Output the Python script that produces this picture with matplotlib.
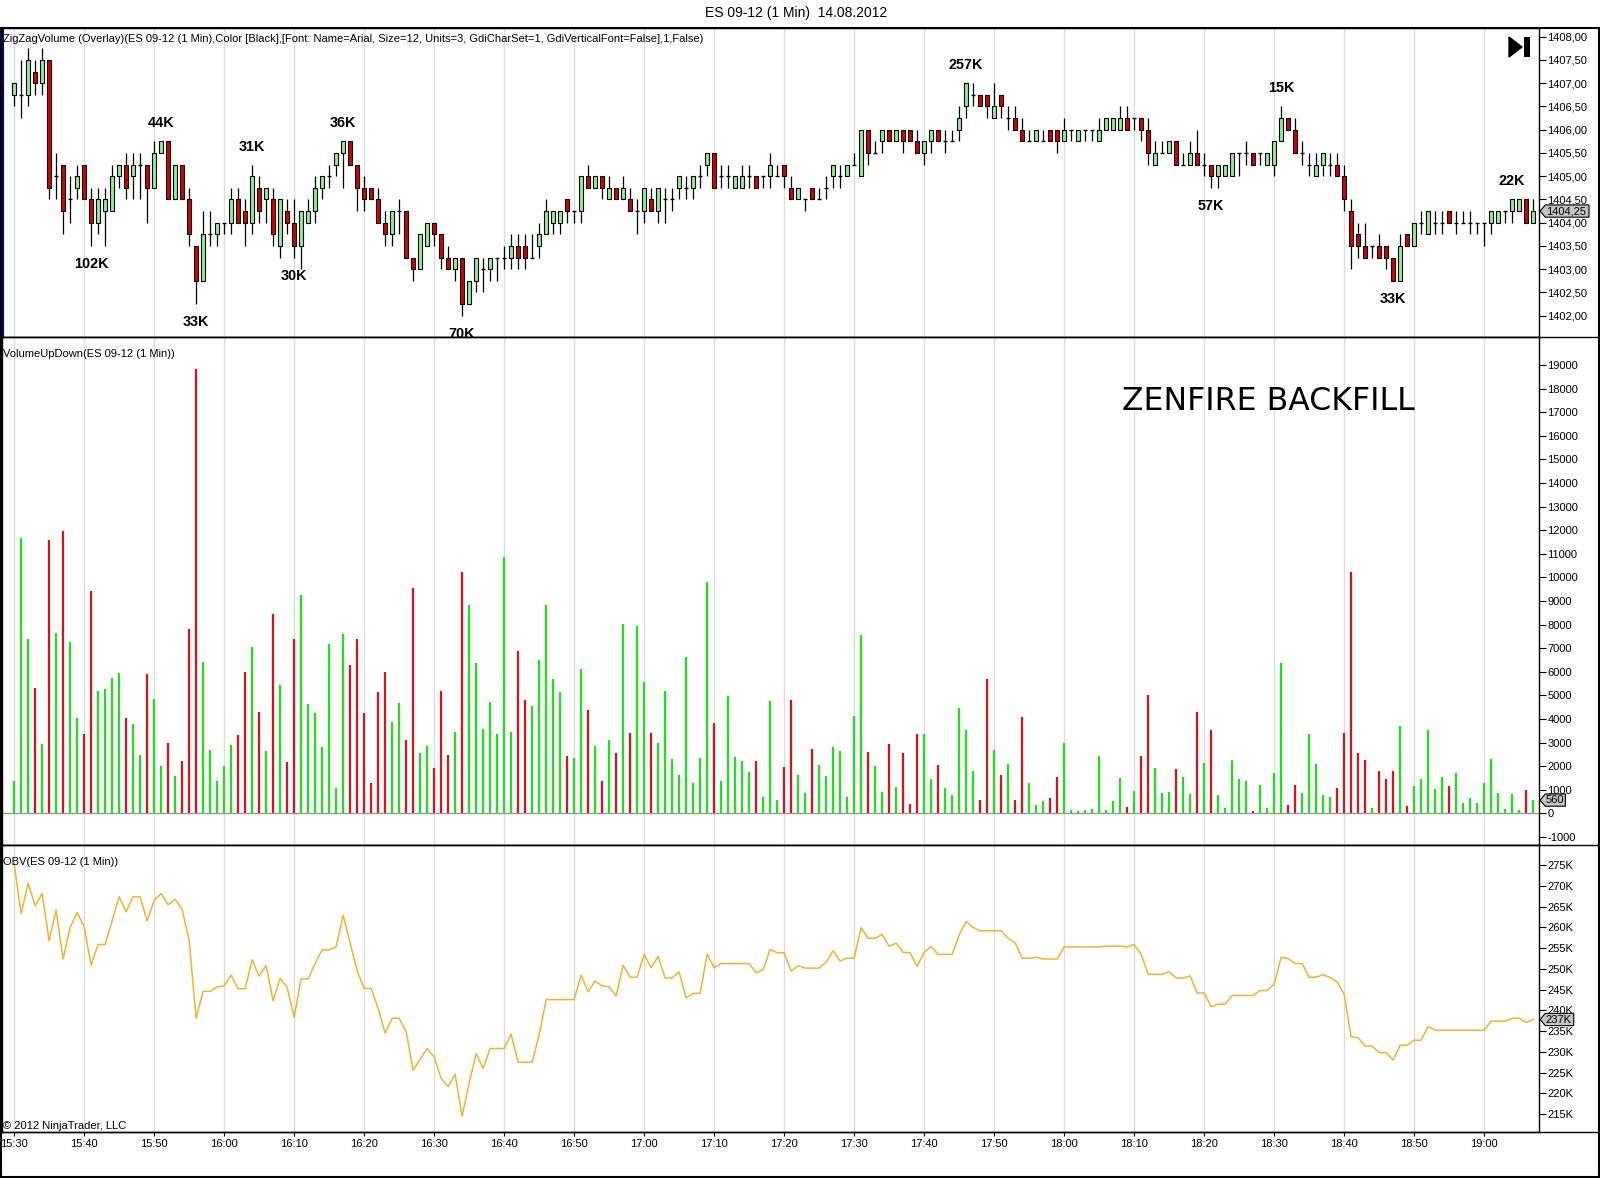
import numpy as np
import matplotlib.pyplot as plt
from matplotlib.ticker import FixedLocator
from matplotlib.patches import Polygon, Rectangle
from matplotlib.lines import Line2D
from matplotlib.transforms import Affine2D, ScaledTranslation

plt.rcParams['font.family'] = ['Liberation Sans', 'DejaVu Sans']

# ES 09-12, 1 minute bars from 15:30 to 19:07
opens = [
    1406.75, 1406.75, 1406.75, 1407.25, 1407.0, 1407.5, 1405.0, 1405.25, 1404.5, 1404.75,
    1405.25, 1404.5, 1404.0, 1404.25, 1404.25, 1405.0, 1405.25, 1405.0, 1405.25, 1405.25,
    1404.75, 1405.5, 1405.75, 1404.5, 1405.25, 1404.5, 1403.5, 1402.75, 1403.75, 1403.75,
    1404.0, 1404.0, 1404.5, 1404.25, 1404.0, 1404.75, 1404.5, 1404.5, 1403.5, 1404.25,
    1404.0, 1403.5, 1404.0, 1404.25, 1404.75, 1405.0, 1405.25, 1405.5, 1405.75, 1405.25,
    1404.75, 1404.75, 1404.5, 1404.0, 1403.75, 1404.25, 1404.25, 1403.25, 1403.0, 1403.5,
    1404.0, 1403.75, 1403.25, 1403.0, 1403.25, 1402.25, 1402.75, 1403.0, 1403.0, 1403.25,
    1403.25, 1403.25, 1403.5, 1403.5, 1403.25, 1403.5, 1403.75, 1404.0, 1404.0, 1404.5,
    1404.25, 1404.25, 1405.0, 1404.75, 1405.0, 1404.5, 1404.75, 1404.5, 1404.5, 1404.25,
    1404.25, 1404.5, 1404.25, 1404.5, 1404.5, 1404.75, 1404.75, 1404.75, 1405.0, 1405.25,
    1405.5, 1405.0, 1405.0, 1404.75, 1404.75, 1405.0, 1405.0, 1405.0, 1405.0, 1405.0,
    1405.25, 1404.75, 1404.5, 1404.5, 1404.75, 1404.5, 1404.75, 1405.0, 1405.0, 1405.0,
    1405.25, 1405.0, 1406.0, 1405.5, 1405.75, 1406.0, 1405.75, 1406.0, 1406.0, 1405.75,
    1405.5, 1405.75, 1406.0, 1405.75, 1405.75, 1406.0, 1406.5, 1406.75, 1406.75, 1406.75,
    1406.25, 1406.75, 1406.25, 1406.25, 1406.0, 1405.75, 1405.75, 1405.75, 1406.0, 1406.0,
    1405.75, 1406.0, 1405.75, 1406.0, 1406.0, 1405.75, 1406.0, 1406.0, 1406.0, 1406.25,
    1406.25, 1406.25, 1406.0, 1405.25, 1405.5, 1405.5, 1405.75, 1405.25, 1405.25, 1405.5,
    1405.25, 1405.25, 1405.0, 1405.0, 1405.0, 1405.5, 1405.5, 1405.5, 1405.5, 1405.25,
    1405.25, 1405.75, 1406.25, 1406.0, 1405.5, 1405.25, 1405.0, 1405.25, 1405.25, 1405.25,
    1405.0, 1404.25, 1403.75, 1403.5, 1403.5, 1403.5, 1403.5, 1403.25, 1402.75, 1403.75,
    1403.5, 1404.0, 1403.75, 1404.0, 1404.0, 1404.25, 1404.0, 1404.0, 1404.0, 1404.0,
    1404.0, 1404.0, 1404.0, 1404.25, 1404.25, 1404.25, 1404.5, 1404.0,
]
highs = [
    1407.0, 1407.5, 1407.75, 1407.5, 1407.75, 1407.5, 1405.5, 1405.25, 1405.0, 1405.25,
    1405.25, 1404.75, 1404.75, 1404.75, 1405.25, 1405.25, 1405.5, 1405.5, 1405.5, 1405.25,
    1405.75, 1405.75, 1405.75, 1405.25, 1405.25, 1404.75, 1403.5, 1404.25, 1404.25, 1404.0,
    1404.0, 1404.75, 1404.75, 1404.5, 1405.25, 1405.0, 1404.75, 1404.75, 1404.5, 1404.5,
    1404.5, 1404.25, 1404.5, 1405.0, 1405.0, 1405.25, 1405.5, 1405.75, 1405.75, 1405.25,
    1405.0, 1404.75, 1404.75, 1404.25, 1404.25, 1404.5, 1404.25, 1403.25, 1403.75, 1404.0,
    1404.0, 1403.75, 1403.5, 1403.25, 1403.25, 1402.75, 1403.25, 1403.25, 1403.25, 1403.25,
    1403.5, 1403.75, 1403.75, 1403.75, 1403.75, 1404.0, 1404.5, 1404.25, 1404.25, 1404.5,
    1404.25, 1405.0, 1405.25, 1405.0, 1405.0, 1405.0, 1404.75, 1405.0, 1404.75, 1404.5,
    1404.75, 1404.75, 1404.75, 1404.75, 1404.75, 1405.0, 1405.0, 1405.0, 1405.25, 1405.5,
    1405.5, 1405.25, 1405.25, 1405.0, 1405.25, 1405.25, 1405.0, 1405.0, 1405.5, 1405.25,
    1405.25, 1405.0, 1404.75, 1404.5, 1404.75, 1404.75, 1405.0, 1405.25, 1405.25, 1405.25,
    1405.5, 1406.0, 1406.0, 1405.75, 1406.0, 1406.0, 1406.0, 1406.0, 1406.0, 1406.0,
    1405.75, 1406.0, 1406.0, 1406.0, 1406.0, 1406.5, 1407.0, 1407.0, 1406.75, 1406.75,
    1407.0, 1406.75, 1406.5, 1406.5, 1406.25, 1406.0, 1406.0, 1406.0, 1406.0, 1406.0,
    1406.25, 1406.0, 1406.0, 1406.0, 1406.0, 1406.25, 1406.25, 1406.25, 1406.5, 1406.5,
    1406.25, 1406.25, 1406.25, 1405.75, 1405.75, 1405.75, 1405.75, 1405.5, 1405.75, 1406.0,
    1405.5, 1405.25, 1405.25, 1405.25, 1405.5, 1405.5, 1405.75, 1405.5, 1405.5, 1405.5,
    1405.75, 1406.5, 1406.25, 1406.25, 1405.75, 1405.5, 1405.5, 1405.5, 1405.5, 1405.5,
    1405.25, 1404.5, 1404.0, 1404.0, 1403.5, 1403.75, 1403.5, 1403.25, 1403.75, 1403.75,
    1404.0, 1404.25, 1404.25, 1404.25, 1404.25, 1404.25, 1404.25, 1404.25, 1404.25, 1404.0,
    1404.0, 1404.25, 1404.25, 1404.25, 1404.5, 1404.5, 1404.5, 1404.5,
]
lows = [
    1406.5, 1406.25, 1406.5, 1406.75, 1406.75, 1404.5, 1404.5, 1403.75, 1404.0, 1404.5,
    1404.5, 1403.5, 1403.75, 1403.5, 1404.25, 1404.75, 1404.5, 1404.5, 1404.5, 1404.0,
    1404.75, 1405.5, 1404.5, 1404.5, 1404.5, 1403.5, 1402.25, 1402.75, 1403.5, 1403.5,
    1403.75, 1403.75, 1404.0, 1403.5, 1403.75, 1404.0, 1404.0, 1403.5, 1403.25, 1403.75,
    1403.25, 1403.0, 1404.0, 1404.0, 1404.5, 1404.75, 1405.0, 1404.75, 1405.25, 1404.25,
    1404.25, 1404.5, 1404.0, 1403.5, 1403.5, 1403.75, 1403.25, 1402.75, 1403.0, 1403.5,
    1403.5, 1403.0, 1403.0, 1402.75, 1402.0, 1402.25, 1402.5, 1402.5, 1402.75, 1402.75,
    1403.0, 1403.0, 1403.0, 1403.0, 1403.25, 1403.25, 1403.75, 1403.75, 1403.75, 1404.0,
    1404.0, 1404.0, 1404.75, 1404.75, 1404.5, 1404.5, 1404.5, 1404.5, 1404.25, 1403.75,
    1404.0, 1404.25, 1404.0, 1404.0, 1404.25, 1404.5, 1404.5, 1404.5, 1404.75, 1405.0,
    1404.75, 1404.75, 1404.75, 1404.75, 1404.75, 1404.75, 1404.75, 1404.75, 1404.75, 1405.0,
    1404.75, 1404.5, 1404.5, 1404.25, 1404.5, 1404.5, 1404.5, 1404.75, 1404.75, 1405.0,
    1405.25, 1405.0, 1405.25, 1405.5, 1405.5, 1405.75, 1405.75, 1405.5, 1405.75, 1405.5,
    1405.25, 1405.5, 1405.75, 1405.5, 1405.75, 1405.75, 1406.25, 1406.5, 1406.5, 1406.25,
    1406.25, 1406.25, 1406.0, 1406.0, 1405.75, 1405.75, 1405.75, 1405.75, 1405.75, 1405.5,
    1405.75, 1405.75, 1405.75, 1405.75, 1405.75, 1405.75, 1406.0, 1406.0, 1406.0, 1406.0,
    1406.0, 1405.75, 1405.25, 1405.25, 1405.5, 1405.5, 1405.25, 1405.25, 1405.25, 1405.25,
    1405.0, 1404.75, 1404.75, 1405.0, 1405.0, 1405.0, 1405.25, 1405.25, 1405.25, 1405.25,
    1405.0, 1405.75, 1406.0, 1405.5, 1405.25, 1405.0, 1405.0, 1405.0, 1405.0, 1405.0,
    1404.25, 1403.0, 1403.25, 1403.25, 1403.25, 1403.25, 1403.0, 1402.75, 1402.75, 1403.5,
    1403.5, 1403.75, 1403.75, 1403.75, 1403.75, 1404.0, 1403.75, 1404.0, 1403.75, 1403.75,
    1403.5, 1403.75, 1404.0, 1404.0, 1404.0, 1404.25, 1404.0, 1404.0,
]
closes = [
    1407.0, 1406.75, 1407.5, 1407.0, 1407.5, 1404.75, 1405.0, 1404.25, 1404.5, 1405.0,
    1404.5, 1404.0, 1404.5, 1404.5, 1405.0, 1405.25, 1404.75, 1405.25, 1405.25, 1404.75,
    1405.5, 1405.75, 1404.5, 1405.25, 1404.5, 1403.75, 1402.75, 1403.75, 1403.75, 1404.0,
    1404.0, 1404.5, 1404.0, 1404.0, 1405.0, 1404.25, 1404.75, 1403.75, 1404.5, 1404.0,
    1403.5, 1404.25, 1404.25, 1404.75, 1405.0, 1405.0, 1405.5, 1405.75, 1405.25, 1404.75,
    1404.5, 1404.5, 1404.0, 1403.75, 1404.25, 1404.25, 1403.25, 1403.0, 1403.75, 1404.0,
    1403.75, 1403.25, 1403.0, 1403.25, 1402.25, 1402.75, 1403.25, 1403.0, 1403.25, 1403.25,
    1403.25, 1403.5, 1403.25, 1403.25, 1403.25, 1403.75, 1404.25, 1404.25, 1404.25, 1404.25,
    1404.25, 1405.0, 1404.75, 1405.0, 1404.75, 1404.75, 1404.5, 1404.75, 1404.25, 1404.25,
    1404.75, 1404.25, 1404.75, 1404.5, 1404.5, 1405.0, 1404.75, 1405.0, 1405.0, 1405.5,
    1404.75, 1405.0, 1405.0, 1405.0, 1405.0, 1405.0, 1404.75, 1405.0, 1405.25, 1405.0,
    1405.0, 1404.5, 1404.75, 1404.5, 1404.5, 1404.5, 1404.75, 1405.25, 1405.0, 1405.25,
    1405.25, 1406.0, 1405.5, 1405.5, 1406.0, 1405.75, 1406.0, 1405.75, 1405.75, 1405.5,
    1405.75, 1406.0, 1405.75, 1405.75, 1405.75, 1406.25, 1407.0, 1406.75, 1406.5, 1406.5,
    1406.5, 1406.5, 1406.25, 1406.0, 1405.75, 1405.75, 1406.0, 1405.75, 1405.75, 1405.75,
    1406.0, 1406.0, 1406.0, 1406.0, 1406.0, 1406.0, 1406.25, 1406.25, 1406.25, 1406.0,
    1406.25, 1406.0, 1405.5, 1405.5, 1405.5, 1405.75, 1405.25, 1405.25, 1405.5, 1405.25,
    1405.25, 1405.0, 1405.25, 1405.25, 1405.5, 1405.5, 1405.5, 1405.25, 1405.5, 1405.5,
    1405.75, 1406.25, 1406.0, 1405.5, 1405.5, 1405.25, 1405.25, 1405.5, 1405.25, 1405.0,
    1404.5, 1403.5, 1403.5, 1403.25, 1403.5, 1403.25, 1403.25, 1402.75, 1403.5, 1403.5,
    1404.0, 1404.0, 1404.25, 1404.0, 1404.0, 1404.0, 1404.0, 1404.0, 1404.0, 1404.0,
    1404.0, 1404.25, 1404.25, 1404.25, 1404.5, 1404.5, 1404.0, 1404.25,
]

# VolumeUpDown: contracts per bar
volume = [
    1370, 11680, 7390, 5310, 2940, 11580, 7640, 11960, 7260, 4040,
    3360, 9420, 5180, 5270, 5730, 5950, 4040, 3790, 2470, 5900,
    4840, 2020, 2980, 1580, 2220, 7810, 18850, 6410, 2680, 1370,
    2020, 2900, 3320, 5990, 7050, 4290, 2640, 8450, 5440, 2180,
    7390, 9250, 4630, 4250, 2810, 7180, 1070, 7600, 6290, 7390,
    4250, 1290, 5140, 5990, 3870, 4680, 3110, 9550, 2560, 2850,
    1920, 5180, 2470, 3450, 10230, 8830, 6370, 3570, 4720, 3360,
    10860, 3450, 6880, 4800, 4550, 6500, 8830, 5690, 5140, 2430,
    2340, 6120, 4380, 2850, 1370, 3110, 2560, 8010, 3400, 7940,
    5560, 3400, 2980, 5180, 2300, 1620, 6620, 1290, 2340, 9800,
    3830, 1370, 4970, 2390, 2220, 1750, 2220, 690, 4760, 560,
    1960, 4800, 1620, 860, 2730, 2050, 1580, 2810, 2640, 690,
    4120, 7560, 2600, 2020, 900, 2940, 1120, 2560, 400, 3360,
    3360, 1450, 2050, 1070, 780, 4460, 3530, 1790, 560, 5690,
    2680, 1620, 2090, 560, 4080, 1290, 350, 520, 650, 1540,
    2980, 140, 100, 140, 180, 2430, 140, 520, 1500, 270,
    950, 2430, 5010, 1920, 860, 900, 1880, 1540, 820, 4290,
    2130, 3530, 780, 230, 2260, 1450, 1370, 100, 1200, 230,
    1710, 6370, 350, 1200, 860, 3360, 2090, 780, 690, 1070,
    3400, 10230, 2560, 2260, 230, 1790, 1450, 1790, 3700, 310,
    1160, 1450, 3530, 1030, 1540, 1160, 1710, 440, 650, 440,
    1290, 2300, 860, 180, 820, 140, 990, 560,
]
# 'g' = up volume, 'r' = down volume (ten bars per chunk)
vol_dir = ''.join([
    'gggrgrgrgg', 'rrggggrggr', 'ggrgrrrggg', 'ggrrgrgrgr', 'rgggggggrr',
    'rrrrggrrgg', 'rrrgrggggg', 'ggrrgggggr', 'ggrgrgrgrg', 'grgggggggg',
    'rgggggrggg', 'rrggrggggg', 'ggrggrgrrr', 'ggrgggggrr', 'grgrrgggrr',
    'gggggggggr', 'grrgggrggr', 'grgggggrgg', 'ggrrgggggr', 'rrrrgrrrgr',
    'gggggrgggg', 'ggggggrg',
])

# OBV in thousands
obv = [
    275.5, 263.3, 270.7, 265.3, 268.2, 256.8, 264.2, 252.4, 260.0, 263.6,
    260.2, 250.9, 255.9, 255.9, 261.6, 267.4, 263.8, 267.4, 267.4, 261.6,
    266.5, 268.2, 265.5, 266.8, 264.4, 257.0, 238.1, 244.6, 244.6, 245.7,
    245.9, 248.5, 245.2, 245.2, 252.2, 248.3, 250.8, 242.3, 247.7, 245.6,
    238.3, 247.6, 247.6, 251.3, 254.6, 254.6, 255.3, 263.0, 256.2, 249.6,
    245.3, 245.3, 240.5, 234.5, 238.1, 238.1, 234.9, 225.6, 228.2, 230.8,
    228.8, 223.6, 221.6, 224.6, 214.5, 222.4, 229.6, 226.0, 230.8, 230.8,
    230.8, 234.3, 227.5, 227.5, 227.5, 234.0, 242.6, 242.6, 242.6, 242.6,
    242.6, 248.5, 244.5, 247.1, 245.9, 245.7, 243.5, 250.9, 248.0, 248.0,
    253.5, 250.3, 253.0, 247.8, 247.8, 249.3, 243.0, 244.1, 244.1, 253.6,
    250.3, 251.3, 251.3, 251.3, 251.3, 251.3, 249.1, 249.8, 254.7, 253.9,
    253.9, 249.5, 250.8, 250.2, 250.2, 250.2, 251.6, 254.4, 251.9, 252.6,
    252.6, 259.9, 257.4, 257.4, 258.3, 255.5, 256.2, 254.0, 253.9, 250.6,
    254.0, 255.4, 253.5, 253.5, 253.5, 258.2, 261.4, 260.0, 259.2, 259.2,
    259.2, 259.2, 257.4, 256.3, 252.6, 252.6, 252.8, 252.4, 252.4, 252.4,
    255.3, 255.3, 255.3, 255.3, 255.3, 255.3, 255.5, 255.5, 255.5, 255.3,
    255.9, 253.6, 248.7, 248.7, 248.7, 249.3, 247.8, 247.8, 248.3, 244.2,
    244.2, 240.9, 241.5, 241.5, 243.6, 243.6, 243.6, 243.6, 244.8, 244.8,
    246.3, 252.8, 252.5, 251.3, 251.3, 248.0, 248.0, 248.6, 247.9, 246.9,
    243.9, 233.6, 233.4, 231.4, 231.4, 229.8, 229.8, 228.0, 231.6, 231.6,
    232.8, 232.8, 236.1, 235.2, 235.2, 235.2, 235.2, 235.2, 235.2, 235.2,
    235.2, 237.4, 237.4, 237.4, 238.1, 238.1, 237.1, 237.8,
]

# ZigZagVolume swing labels: bar index, swing price, text, swing high?
zz_bar = [11, 21, 26, 34, 40, 47, 64, 136, 171, 181, 197, 214]
zz_price = [1403.5, 1405.75, 1402.25, 1405.25, 1403.25, 1405.75, 1402.0,
            1407.0, 1404.75, 1406.5, 1402.75, 1404.5]
zz_text = ['102K', '44K', '33K', '31K', '30K', '36K', '70K',
           '257K', '57K', '15K', '33K', '22K']
zz_high = [False, True, False, True, False, True, False,
           True, False, True, False, True]

time_labels = ['15:30', '15:40', '15:50', '16:00', '16:10', '16:20', '16:30', '16:40',
               '16:50', '17:00', '17:10', '17:20', '17:30', '17:40', '17:50', '18:00',
               '18:10', '18:20', '18:30', '18:40', '18:50', '19:00']

o = np.array(opens)
h = np.array(highs)
l = np.array(lows)
c = np.array(closes)
x = np.arange(len(c))

W, H = 1600, 1178
fig = plt.figure(figsize=(16, 11.78), dpi=100)


def px_axes(top, bottom, left=2, right=1539):
    return fig.add_axes([left / W, 1 - bottom / H, (right - left) / W, (bottom - top) / H])


ax1 = px_axes(28, 337)
ax2 = px_axes(337, 845)
ax3 = px_axes(845, 1132)

grid_c = '#dcdcdc'
lab_fs = 8.0


def style(ax, ylim, ticks, labels, grid):
    ax.set_xlim(-1.73, 217.84)
    ax.set_ylim(*ylim)
    ax.yaxis.tick_right()
    ax.set_yticks(ticks)
    ax.set_yticklabels(labels)
    ax.yaxis.set_minor_locator(FixedLocator(grid))
    ax.set_xticks(np.arange(0, 211, 10))
    ax.grid(which='minor', axis='y', color=grid_c, lw=1)
    ax.grid(which='major', axis='x', color=grid_c, lw=1)
    ax.tick_params(axis='y', which='major', length=5, width=0.8, pad=1, labelsize=lab_fs)
    ax.tick_params(axis='y', which='minor', length=0)
    ax.tick_params(axis='x', length=0, labelbottom=False)
    for s in ax.spines.values():
        s.set_color('black')
        s.set_linewidth(1)
    ax.set_axisbelow(True)


# price panel
pt = np.arange(1402, 1408.01, 0.5)
style(ax1, (1401.542, 1408.187), pt, [('%.2f' % t).replace('.', ',') for t in pt],
      [1402, 1403.5, 1405, 1406.5, 1408])
ax1.spines['left'].set_color('#000080')
ax1.spines['left'].set_linewidth(2.2)

up = c > o
dn = c < o
flat = c == o
bw = 0.66
ax1.vlines(x, l, h, color='black', lw=0.9, zorder=2)
ax1.bar(x[up], c[up] - o[up], bottom=o[up], width=bw, color='#90EE90',
        edgecolor='black', lw=0.8, zorder=3)
ax1.bar(x[dn], o[dn] - c[dn], bottom=c[dn], width=bw, color='#D40000',
        edgecolor='black', lw=0.8, zorder=3)
ax1.hlines(c[flat], x[flat] - bw / 2, x[flat] + bw / 2, color='black', lw=1, zorder=3)

for b, p, t, hi in zip(zz_bar, zz_price, zz_text, zz_high):
    ax1.annotate(t, (b, p), xytext=(0, 13 if hi else -13), textcoords='offset points',
                 ha='center', va='center', fontsize=10.4, fontweight='bold',
                 clip_on=True, zorder=5)

# volume panel
vt = np.arange(-1000, 19001, 1000)
style(ax2, (-1344, 20191), vt, [str(t) for t in vt], np.arange(-1000, 19001, 3000))
vcol = ['#1EE01E' if d == 'g' else '#E0101A' for d in vol_dir]
ax2.axhline(0, color='#999999', lw=1, zorder=1)
ax2.vlines(x, 0, volume, colors=vcol, lw=1.6, zorder=2)

# OBV panel
ot = np.arange(215, 276, 5)
style(ax3, (210.66, 279.9), ot, ['%dK' % t for t in ot], [215, 230, 245, 260, 275])
ax3.plot(x, obv, color='#F2B234', lw=1.1, zorder=3)
ax3.set_xticklabels(time_labels)
ax3.tick_params(axis='x', length=3, width=0.8, labelbottom=True, labelsize=lab_fs, pad=2)


def flag(ax, value, label, width):
    # grey marker on the price axis holding the last value
    tr = Affine2D().scale(fig.dpi / 72) + ScaledTranslation(1, value, ax.get_yaxis_transform())
    hh = 4.4
    pts = [(0.8, 0), (4.5, hh), (width, hh), (width, -hh), (4.5, -hh)]
    ax.add_artist(Polygon(pts, closed=True, transform=tr, fc='#c4c4c4', ec='black',
                          lw=0.8, clip_on=False, zorder=10))
    ax.annotate(label, (1, value), xycoords=ax.get_yaxis_transform(),
                xytext=(3.5 + (width - 3.5) / 2, 0), textcoords='offset points',
                ha='center', va='center', fontsize=lab_fs, zorder=11, annotation_clip=False)


flag(ax1, closes[-1], ('%.2f' % closes[-1]).replace('.', ','), 36)
flag(ax2, volume[-1], str(volume[-1]), 19)
flag(ax3, obv[-1], '%dK' % int(obv[-1]), 25)

# texts
fig.text(796 / W, 1 - 13 / H, 'ES 09-12 (1 Min)  14.08.2012', ha='center', va='center',
         fontsize=10)
fig.text(3 / W, 1 - 39 / H,
         'ZigZagVolume (Overlay)(ES 09-12 (1 Min),Color [Black],[Font: Name=Arial, Size=12, '
         'Units=3, GdiCharSet=1, GdiVerticalFont=False],1,False)',
         va='center', fontsize=lab_fs)
fig.text(3 / W, 1 - 354 / H, 'VolumeUpDown(ES 09-12 (1 Min))', va='center', fontsize=lab_fs)
fig.text(3 / W, 1 - 862 / H, 'OBV(ES 09-12 (1 Min))', va='center', fontsize=lab_fs)
fig.text(3 / W, 1 - 1126 / H, '\u00a9 2012 NinjaTrader, LLC', va='center', fontsize=lab_fs)
fig.text(1122 / W, 1 - 410 / H, 'ZENFIRE BACKFILL', va='baseline', fontsize=22.7,
         family='DejaVu Sans')

# "go to last bar" button
fig.add_artist(Polygon([(1509 / W, 1 - 37 / H), (1509 / W, 1 - 57 / H), (1522 / W, 1 - 47 / H)],
                       closed=True, transform=fig.transFigure, fc='black', ec='black'))
fig.add_artist(Rectangle((1524 / W, 1 - 57 / H), 6 / W, 20 / H, transform=fig.transFigure,
                         fc='black', ec='none'))

# frame and panel separators
for yy in (337, 845, 1132):
    fig.add_artist(Line2D([0, 1599 / W], [1 - yy / H] * 2, transform=fig.transFigure,
                          color='black', lw=1))
fig.add_artist(Rectangle((0.5 / W, 1 - 1177 / H), 1598.5 / W, 1149.5 / H,
                         transform=fig.transFigure, fill=False, ec='black', lw=1.5))

fig.savefig('out.png', dpi=100)
